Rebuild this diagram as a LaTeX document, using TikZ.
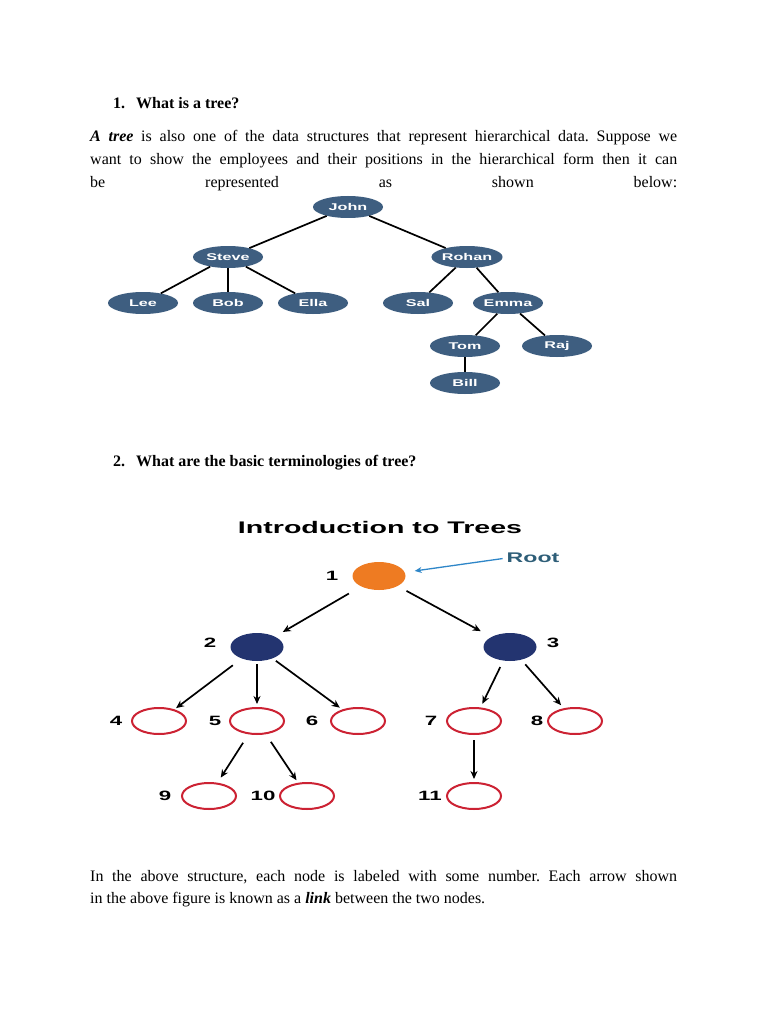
\documentclass[tikz,border=0pt]{standalone}
\usepackage{fontspec}
\setmainfont{Liberation Serif}
\newfontfamily\widesans[FakeStretch=1.65]{Liberation Sans}
\newfontfamily\titlesans[FakeStretch=1.7]{Liberation Sans}
\usetikzlibrary{shapes.geometric,arrows.meta}
\definecolor{slate}{HTML}{3E5E80}
\definecolor{rootorange}{HTML}{EE7B22}
\definecolor{navy}{HTML}{233470}
\definecolor{ringred}{HTML}{CC2233}
\definecolor{rootteal}{HTML}{2E5E78}
\definecolor{rootblue}{HTML}{2E86C8}
\frenchspacing
\begin{document}
\begin{tikzpicture}[x=1pt,y=-1pt,
  txt/.style={anchor=base west, inner sep=0pt, font=\fontsize{16}{19}\selectfont},
  emp/.style={ellipse, fill=slate, draw=none, minimum width=70pt, minimum height=22pt, inner sep=0pt,
    text=white, font=\widesans\bfseries\fontsize{9.8}{11}\selectfont},
  tedge/.style={draw=black, line width=1.7pt},
  solidnode/.style={ellipse, draw=none, minimum width=53pt, minimum height=28pt, inner sep=0pt},
  ring/.style={ellipse, draw=ringred, line width=2pt, fill=white, minimum width=54pt, minimum height=26pt, inner sep=0pt},
  numlab/.style={inner sep=0pt, font=\widesans\bfseries\fontsize{13.5}{15}\selectfont},
  arr/.style={draw=black, line width=1.7pt, -{Stealth[length=8pt,width=7pt]}},
]
\useasboundingbox[fill=white] (0,0) rectangle (768,1024);

% ---- section 1 text ----
\node[txt] (h1n) at (113,109) {\bfseries 1.};
\node[txt] (h1) at (136,109) {\bfseries What is a tree?};
\node[txt] (p1) at (90,142) {\makebox[587pt][s]{\textbf{\textit{A tree}} is also one of the data structures that represent hierarchical data. Suppose we}};
\node[txt] (p2) at (90,165) {\makebox[587pt][s]{want to show the employees and their positions in the hierarchical form then it can}};
\node[txt] (p3) at (90,188) {\makebox[587pt][s]{be represented as shown below:}};

% ---- employee tree ----
\node[emp] (john)  at (348,207) {John};
\node[emp] (steve) at (228,257) {Steve};
\node[emp] (rohan) at (467,257) {Rohan};
\node[emp] (lee)   at (143,303) {Lee};
\node[emp] (bob)   at (228,303) {Bob};
\node[emp] (ella)  at (313,303) {Ella};
\node[emp] (sal)   at (418,303) {Sal};
\node[emp] (emma)  at (508,303) {Emma};
\node[emp] (tom)   at (465,346) {Tom};
\node[emp] (raj)   at (557,346) {Raj};
\node[emp] (bill)  at (465,383) {Bill};
\draw[tedge] (john) -- (steve);
\draw[tedge] (john) -- (rohan);
\draw[tedge] (steve) -- (lee);
\draw[tedge] (steve) -- (bob);
\draw[tedge] (steve) -- (ella);
\draw[tedge] (rohan) -- (sal);
\draw[tedge] (rohan) -- (emma);
\draw[tedge] (emma) -- (tom);
\draw[tedge] (emma) -- (raj);
\draw[tedge] (tom) -- (bill);

% ---- section 2 ----
\node[txt] (h2n) at (113,466) {\bfseries 2.};
\node[txt] (h2) at (136,466) {\bfseries What are the basic terminologies of tree?};

\node[inner sep=0pt, font=\titlesans\bfseries\fontsize{16.8}{19}\selectfont] (title) at (380,527) {Introduction to Trees};

\node[solidnode, fill=rootorange] (n1) at (379,576) {};
\node[solidnode, fill=navy] (n2) at (257,647) {};
\node[solidnode, fill=navy] (n3) at (510,647) {};
\node[ring] (n4) at (159,721) {};
\node[ring] (n5) at (257,721) {};
\node[ring] (n6) at (358,721) {};
\node[ring] (n7) at (474,721) {};
\node[ring] (n8) at (575,721) {};
\node[ring] (n9) at (209,796) {};
\node[ring] (n10) at (307,796) {};
\node[ring] (n11) at (474,796) {};

\node[numlab] (l1) at (332,576) {1};
\node[numlab] (l2) at (210,643) {2};
\node[numlab] (l3) at (553,643) {3};
\node[numlab] (l4) at (116,721) {4};
\node[numlab] (l5) at (215,721) {5};
\node[numlab] (l6) at (312,721) {6};
\node[numlab] (l7) at (431,721) {7};
\node[numlab] (l8) at (537,721) {8};
\node[numlab] (l9) at (165,796) {9};
\node[numlab] (l10) at (263,796) {10};
\node[numlab] (l11) at (430,796) {11};

\node[inner sep=0pt, text=rootteal, font=\widesans\bfseries\fontsize{14}{16}\selectfont] (root) at (533,558) {Root};
\draw[draw=rootblue, line width=1.3pt, -{Stealth[length=7pt,width=6pt]}, shorten <=4pt, shorten >=10pt] (root.west) -- (n1);

\draw[arr, shorten <=14pt, shorten >=9pt] (n1) -- (n2);
\draw[arr, shorten <=10pt, shorten >=12pt] (n1) -- (n3);
\draw[arr, shorten <=11pt, shorten >=2pt] (n2) -- (n4);
\draw[arr, shorten <=3pt, shorten >=3pt] (n2) -- (n5);
\draw[arr, shorten <=4pt, shorten >=3pt] (n2) -- (n6);
\draw[arr, shorten <=7pt, shorten >=4pt] (n3) -- (n7);
\draw[arr, shorten <=6pt, shorten >=4pt] (n3) -- (n8);
\draw[arr, shorten <=10pt, shorten >=6pt] (n5) -- (n9);
\draw[arr, shorten <=9pt, shorten >=3pt] (n5) -- (n10);
\draw[arr, shorten <=5pt, shorten >=3pt] (n7) -- (n11);

% ---- closing paragraph ----
\node[txt] (b1) at (90,881) {\makebox[587pt][s]{In the above structure, each node is labeled with some number. Each arrow shown}};
\node[txt] (b2) at (90,903) {in the above figure is known as a \textbf{\textit{link}} between the two nodes.};
\end{tikzpicture}
\end{document}
